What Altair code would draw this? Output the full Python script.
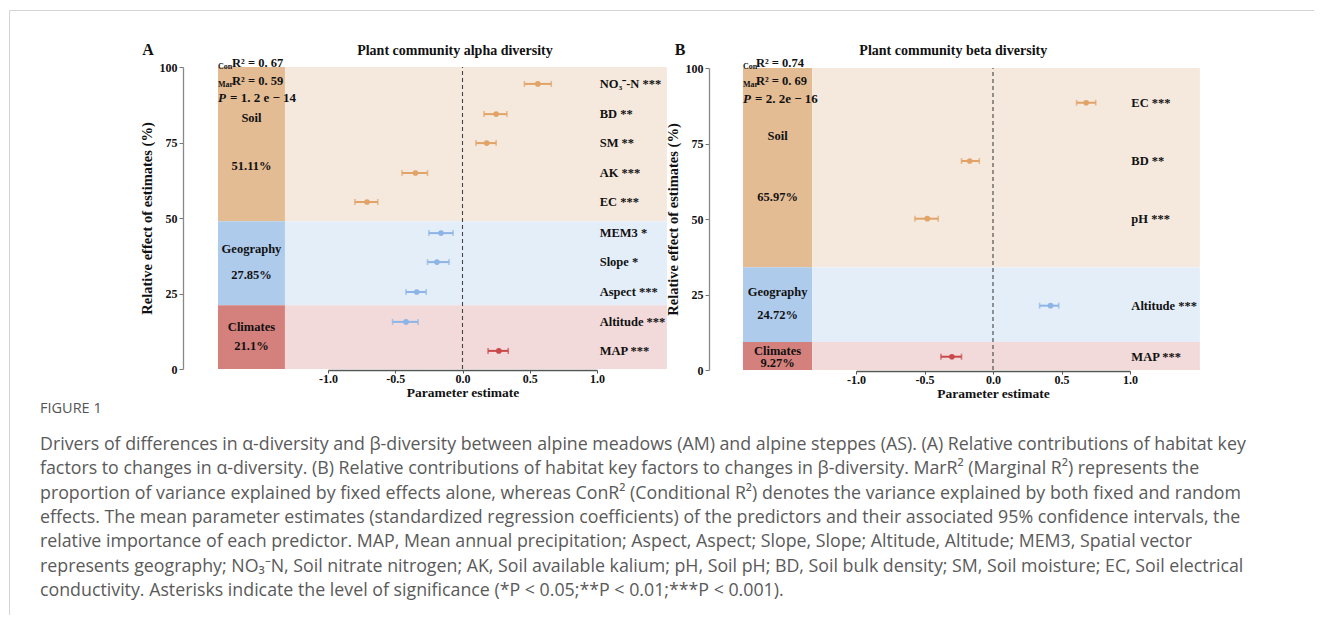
import altair as alt
import pandas as pd

SERIF = "Liberation Serif"
SANS = "Open Sans"

# ---------------- Panel A: alpha diversity ----------------
factors_a = ["NO₃⁻-N ***", "BD **", "SM **", "AK ***", "EC ***",
             "MEM3 *", "Slope *", "Aspect ***", "Altitude ***", "MAP ***"]
groups_a = ["Soil", "Soil", "Soil", "Soil", "Soil",
            "Geography", "Geography", "Geography", "Geography", "Climates"]
ypos_a = [94.4, 84.4, 74.8, 64.9, 55.3, 45.0, 35.4, 25.5, 15.6, 6.0]
est_a = [0.56, 0.25, 0.18, -0.35, -0.71, -0.16, -0.19, -0.34, -0.42, 0.27]
lo_a = [0.46, 0.16, 0.10, -0.45, -0.80, -0.25, -0.26, -0.42, -0.52, 0.19]
hi_a = [0.66, 0.33, 0.25, -0.26, -0.63, -0.07, -0.10, -0.27, -0.33, 0.34]
pct_a = [51.11, 27.85, 21.1]          # Soil, Geography, Climates
stats_a = ["0. 67", "0. 59", "1. 2 e − 14"]

# ---------------- Panel B: beta diversity ----------------
factors_b = ["EC ***", "BD **", "pH ***", "Altitude ***", "MAP ***"]
groups_b = ["Soil", "Soil", "Soil", "Geography", "Climates"]
ypos_b = [88.5, 69.2, 50.1, 21.3, 4.4]
est_b = [0.68, -0.17, -0.48, 0.42, -0.30]
lo_b = [0.61, -0.23, -0.57, 0.34, -0.38]
hi_b = [0.75, -0.10, -0.40, 0.48, -0.23]
pct_b = [65.97, 24.72, 9.27]
stats_b = ["0.74", "0. 69", "2. 2e − 16"]

categories = ["Soil", "Geography", "Climates"]
x_ticks = [-1.0, -0.5, 0.0, 0.5, 1.0]
y_ticks = [0, 25, 50, 75, 100]

caption_head = "FIGURE 1"
caption_lines = [
    "Drivers of differences in α-diversity and β-diversity between alpine meadows (AM) and alpine steppes (AS). (A) Relative contributions of habitat key",
    "factors to changes in α-diversity. (B) Relative contributions of habitat key factors to changes in β-diversity. MarR² (Marginal R²) represents the",
    "proportion of variance explained by fixed effects alone, whereas ConR² (Conditional R²) denotes the variance explained by both fixed and random",
    "effects. The mean parameter estimates (standardized regression coefficients) of the predictors and their associated 95% confidence intervals, the",
    "relative importance of each predictor. MAP, Mean annual precipitation; Aspect, Aspect; Slope, Slope; Altitude, Altitude; MEM3, Spatial vector",
    "represents geography; NO₃⁻N, Soil nitrate nitrogen; AK, Soil available kalium; pH, Soil pH; BD, Soil bulk density; SM, Soil moisture; EC, Soil electrical",
    "conductivity. Asterisks indicate the level of significance (*P < 0.05;**P < 0.01;***P < 0.001).",
]

# ---------------- styling ----------------
point_colors = ["#E1A367", "#8DB4E6", "#C9484B"]
band_keys = ["Soil-dark", "Soil-light", "Geography-dark", "Geography-light",
             "Climates-dark", "Climates-light"]
band_colors = ["#E4BC94", "#F5E9DE", "#AFCBEC", "#E4EEF9", "#D4807C", "#F2DADA"]

LAYOUT_A = dict(xrange=[320, 589], yrange=[361, 59], xoff=-245, yoff=-175,
                col_left=-1.818, col_split=-1.32, right=1.52, label_x=1.02,
                stat_y=[101.3, 95.4, 89.7], rdx=14,
                name_y=[83.1, 39.7, 13.9], pct_y=[67.2, 31.1, 7.6],
                title_x=-0.056, title_y=105.3, letter_x=-2.338, letter_y=105.6)
LAYOUT_B = dict(xrange=[848, 1122], yrange=[362, 60], xoff=-244, yoff=-701,
                col_left=-1.825, col_split=-1.32, right=1.51, label_x=1.01,
                stat_y=[101.7, 95.7, 89.7], rdx=13,
                name_y=[77.5, 25.8, 6.3], pct_y=[57.3, 18.2, 2.3],
                title_x=-0.29, title_y=105.6, letter_x=-2.285, letter_y=105.9)


def panel(factors, groups, ypos, est, lo, hi, pct, stats, title, letter, L):
    xs = alt.Scale(domain=[-1, 1], range=L["xrange"], nice=False, zero=False)
    ys = alt.Scale(domain=[0, 100], range=L["yrange"], nice=False, zero=False)
    xmid = (L["xrange"][0] + L["xrange"][1]) / 2
    ymid = (L["yrange"][0] + L["yrange"][1]) / 2
    xax = alt.Axis(orient="bottom", offset=L["xoff"], values=x_ticks,
                   labelExpr="datum.value < 0 ? '-' + format(-datum.value, '.1f') : format(datum.value, '.1f')",
                   title="Parameter estimate", titleFont=SERIF, titleFontWeight="bold",
                   titleFontSize=13.5, titleColor="#111", titleBaseline="middle",
                   titleX=xmid, titleY=22, titleAlign="center",
                   labelFont=SERIF, labelFontWeight="bold", labelFontSize=12,
                   labelColor="#111", labelPadding=0, labelFlush=False, labelOverlap=False,
                   tickSize=3, tickColor="#555", domainColor="#555", domainWidth=1.3,
                   grid=False, zindex=2)
    yax = alt.Axis(orient="left", offset=L["yoff"], values=y_ticks,
                   title="Relative effect of estimates (%)", titleFont=SERIF,
                   titleFontWeight="bold", titleFontSize=14.5, titleColor="#111",
                   titleAngle=270, titleX=-36, titleY=ymid, titleAlign="center",
                   titleBaseline="middle",
                   labelFont=SERIF, labelFontWeight="bold", labelFontSize=12,
                   labelColor="#111", labelPadding=2, labelFlush=False, format="d",
                   tickSize=4, tickColor="#777", domainColor="#888", domainWidth=1.3,
                   grid=False, zindex=2)

    def X(f):
        return alt.X(f, type="quantitative", scale=xs, axis=xax)

    def Y(f):
        return alt.Y(f, type="quantitative", scale=ys, axis=yax)

    # bands built from the percentages (Climates at the bottom)
    bounds = {}
    lo_edge = 0.0
    for cat, p in zip(categories[::-1], pct[::-1]):
        hi_edge = min(100.0, lo_edge + p)
        bounds[cat] = (lo_edge, hi_edge)
        lo_edge = hi_edge
    bounds["Soil"] = (bounds["Soil"][0], 100.0)
    rows = []
    for cat in categories:
        b0, b1 = bounds[cat]
        rows.append(dict(key=cat + "-dark", x0=L["col_left"], x1=L["col_split"], y0=b0, y1=b1))
        rows.append(dict(key=cat + "-light", x0=L["col_split"], x1=L["right"], y0=b0, y1=b1))
    bands_df = pd.DataFrame(rows)

    df = pd.DataFrame(dict(factor=factors, group=groups, y=ypos, est=est, lo=lo, hi=hi,
                           lx=[L["label_x"]] * len(factors)))
    col = alt.Color("group:N", scale=alt.Scale(domain=categories, range=point_colors), legend=None)

    bands = alt.Chart(bands_df).mark_rect().encode(
        x=X("x0"), x2="x1", y=Y("y0"), y2="y1",
        fill=alt.Fill("key:N", scale=alt.Scale(domain=band_keys, range=band_colors), legend=None))
    dash = alt.Chart(pd.DataFrame(dict(x=[0.0], y0=[0.0], y1=[100.0]))).mark_rule(
        strokeDash=[4, 3], color="#444", strokeWidth=1.1).encode(x=X("x"), y=Y("y0"), y2="y1")
    err = alt.Chart(df).mark_rule(strokeWidth=2).encode(x=X("lo"), x2="hi", y=Y("y"), color=col)
    cap_lo = alt.Chart(df).mark_tick(orient="vertical", size=6, thickness=1.6).encode(
        x=X("lo"), y=Y("y"), color=col)
    cap_hi = alt.Chart(df).mark_tick(orient="vertical", size=6, thickness=1.6).encode(
        x=X("hi"), y=Y("y"), color=col)
    pts = alt.Chart(df).mark_circle(size=32, opacity=1).encode(x=X("est"), y=Y("y"), color=col)
    labels = alt.Chart(df).mark_text(align="left", baseline="middle", font=SERIF,
                                     fontWeight="bold", fontSize=12.5, color="#111").encode(
        x=X("lx"), y=Y("y"), text="factor:N")

    ccx = (L["col_left"] + L["col_split"]) / 2
    cat_df = pd.DataFrame(dict(
        t=categories + [f"{p}%" for p in pct],
        x=[ccx] * 6,
        y=L["name_y"] + L["pct_y"]))
    cat_txt = alt.Chart(cat_df).mark_text(align="center", baseline="middle", font=SERIF,
                                          fontWeight="bold", fontSize=12.5, color="#111").encode(
        x=X("x"), y=Y("y"), text="t:N")

    sub_df = pd.DataFrame(dict(t=["Con", "Mar"], x=[L["col_left"]] * 2, y=L["stat_y"][:2]))
    sub_txt = alt.Chart(sub_df).mark_text(align="left", baseline="middle", dy=4, font=SERIF,
                                          fontWeight="bold", fontSize=8, color="#111").encode(
        x=X("x"), y=Y("y"), text="t:N")
    r_df = pd.DataFrame(dict(t=["R² = " + stats[0], "R² = " + stats[1]],
                             x=[L["col_left"]] * 2, y=L["stat_y"][:2]))
    r_txt = alt.Chart(r_df).mark_text(align="left", baseline="middle", dx=L["rdx"], font=SERIF,
                                      fontWeight="bold", fontSize=12.5, color="#111").encode(
        x=X("x"), y=Y("y"), text="t:N")
    p_df = pd.DataFrame(dict(t=["P"], x=[L["col_left"]], y=[L["stat_y"][2]]))
    p_txt = alt.Chart(p_df).mark_text(align="left", baseline="middle", font=SERIF,
                                      fontWeight="bold", fontStyle="italic", fontSize=13,
                                      color="#111").encode(x=X("x"), y=Y("y"), text="t:N")
    pv_df = pd.DataFrame(dict(t=["= " + stats[2]], x=[L["col_left"]], y=[L["stat_y"][2]]))
    pv_txt = alt.Chart(pv_df).mark_text(align="left", baseline="middle", dx=12, font=SERIF,
                                        fontWeight="bold", fontSize=13, color="#111").encode(
        x=X("x"), y=Y("y"), text="t:N")

    ttl_df = pd.DataFrame(dict(t=[title], x=[L["title_x"]], y=[L["title_y"]]))
    ttl = alt.Chart(ttl_df).mark_text(align="center", baseline="middle", font=SERIF,
                                      fontWeight="bold", fontSize=14, color="#111").encode(
        x=X("x"), y=Y("y"), text="t:N")
    let_df = pd.DataFrame(dict(t=[letter], x=[L["letter_x"]], y=[L["letter_y"]]))
    let = alt.Chart(let_df).mark_text(align="center", baseline="middle", font=SERIF,
                                      fontWeight="bold", fontSize=16, color="#111").encode(
        x=X("x"), y=Y("y"), text="t:N")

    return alt.layer(bands, dash, err, cap_lo, cap_hi, pts, labels, cat_txt,
                     sub_txt, r_txt, p_txt, pv_txt, ttl, let)


panel_a = panel(factors_a, groups_a, ypos_a, est_a, lo_a, hi_a, pct_a, stats_a,
                "Plant community alpha diversity", "A", LAYOUT_A)
panel_b = panel(factors_b, groups_b, ypos_b, est_b, lo_b, hi_b, pct_b, stats_b,
                "Plant community beta diversity", "B", LAYOUT_B)

one = pd.DataFrame(dict(a=[0]))
head = alt.Chart(pd.DataFrame(dict(t=[caption_head]))).mark_text(
    align="left", baseline="alphabetic", font=SANS, fontSize=14.5, color="#555").encode(
    x=alt.value(32), y=alt.value(405), text="t:N")
cap = alt.Chart(pd.DataFrame(dict(t=["\n".join(caption_lines)]))).mark_text(
    align="left", baseline="alphabetic", font=SANS, fontSize=17.8, color="#5a5a5a",
    lineBreak="\n", lineHeight=24.3).encode(
    x=alt.value(32), y=alt.value(442), text="t:N")
frame_top = alt.Chart(one).mark_rule(color="#d4d4d4", strokeWidth=1).encode(
    x=alt.value(1.5), x2=alt.value(1306), y=alt.value(2.5))
frame_left = alt.Chart(one).mark_rule(color="#d4d4d4", strokeWidth=1).encode(
    x=alt.value(1.5), y=alt.value(2.5), y2=alt.value(607))

chart = alt.layer(panel_a, panel_b, head, cap, frame_top, frame_left).resolve_scale(
    x="independent", y="independent").resolve_axis(
    x="independent", y="independent").properties(
    width=1306, height=607, padding=0, background="white",
    autosize=alt.AutoSizeParams(type="none")).configure_view(stroke=None)

chart.save("out.html", embed_options={"renderer": "svg", "actions": False})
